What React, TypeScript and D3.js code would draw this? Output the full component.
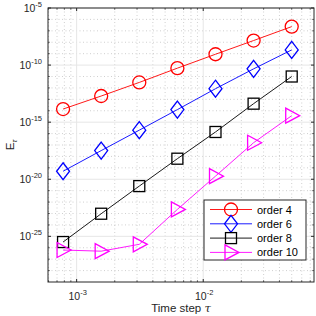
import React from "react";
import * as d3 from "d3";

const steps = [0.00078125, 0.0015625, 0.003125, 0.00625, 0.0125, 0.025, 0.05];
const order4 = [-13.85, -12.71, -11.52, -10.27, -9.05, -7.85, -6.63];
const order6 = [-19.3, -17.49, -15.7, -13.9, -12.07, -10.33, -8.67];
const order8 = [-25.5, -23.02, -20.6, -18.2, -15.86, -13.38, -11.0];
const order10 = [-26.2, -26.3, -25.7, -22.64, -19.73, -16.8, -14.43];
const seriesNames = ["order 4", "order 6", "order 8", "order 10"];
const seriesColors = ["#ff0000", "#0000ff", "#000000", "#ff00ff"];
const seriesMarkers = ["circle", "diamond", "square", "triangle"];
const xMajorExps = [-3, -2];
const yMajorExps = [-5, -10, -15, -20, -25];

const W = 316, H = 316;
const L = 48, R = 314, T = 8, B = 282;

function Marker({ type, x, y, color }: { type: string; x: number; y: number; color: string }) {
  const sw = 1.3;
  if (type === "circle") return <circle cx={x} cy={y} r={6.5} fill="none" stroke={color} strokeWidth={sw} />;
  if (type === "diamond")
    return <path d={`M${x},${y - 8.5}L${x + 6.5},${y}L${x},${y + 8.5}L${x - 6.5},${y}Z`} fill="none" stroke={color} strokeWidth={sw} />;
  if (type === "square") return <rect x={x - 5.5} y={y - 5.5} width={11} height={11} fill="none" stroke={color} strokeWidth={sw} />;
  return <path d={`M${x - 6},${y - 7.5}L${x + 8},${y}L${x - 6},${y + 7.5}Z`} fill="none" stroke={color} strokeWidth={sw} />;
}

export default function App() {
  const x = d3.scaleLog().domain([5.94e-4, 7.5e-2]).range([L, R]);
  const y = d3.scaleLog().domain([1e-29, 1e-5]).range([B, T]);
  const data = [order4, order6, order8, order10];
  const line = d3
    .line<[number, number]>()
    .x((d) => x(d[0]))
    .y((d) => y(Math.pow(10, d[1])));

  const xMinor: number[] = [];
  for (let e = -4; e <= -1; e++) for (let m = 1; m <= 9; m++) {
    const v = m * Math.pow(10, e);
    if (v >= 5.94e-4 && v <= 7.5e-2 && !(m === 1 && xMajorExps.includes(e))) xMinor.push(v);
  }
  const yMinor: number[] = [];
  for (let e = -28; e <= -6; e++) if (!yMajorExps.includes(e)) yMinor.push(Math.pow(10, e));

  const font = "'Liberation Sans', Arial, sans-serif";
  const axisColor = "#262626";

  const legX = 204, legY = 200, legW = 102, legH = 60;

  return (
    <svg width={W} height={H} style={{ position: "absolute", left: 0, top: 0 }} fontFamily={font}>
      <rect x={0} y={0} width={W} height={H} fill="#fff" />
      {xMinor.map((v, i) => (
        <line key={"xm" + i} x1={x(v)} x2={x(v)} y1={T} y2={B} stroke="#b0b0b0" strokeWidth={0.6} strokeDasharray="1,2.5" />
      ))}
      {yMinor.map((v, i) => (
        <line key={"ym" + i} x1={L} x2={R} y1={y(v)} y2={y(v)} stroke="#b0b0b0" strokeWidth={0.6} strokeDasharray="1,2.5" />
      ))}
      {xMajorExps.map((e) => (
        <line key={"xg" + e} x1={x(Math.pow(10, e))} x2={x(Math.pow(10, e))} y1={T} y2={B} stroke="#e6e6e6" strokeWidth={1} />
      ))}
      {yMajorExps.map((e) => (
        <line key={"yg" + e} x1={L} x2={R} y1={y(Math.pow(10, e))} y2={y(Math.pow(10, e))} stroke="#e6e6e6" strokeWidth={1} />
      ))}
      {xMajorExps.map((e) => {
        const px = x(Math.pow(10, e));
        return (
          <g key={"xt" + e}>
            <line x1={px} x2={px} y1={B} y2={B - 3} stroke={axisColor} />
            <line x1={px} x2={px} y1={T} y2={T + 3} stroke={axisColor} />
          </g>
        );
      })}
      {xMinor.map((v, i) => (
        <g key={"xmt" + i}>
          <line x1={x(v)} x2={x(v)} y1={B} y2={B - 1.8} stroke={axisColor} strokeWidth={0.7} />
          <line x1={x(v)} x2={x(v)} y1={T} y2={T + 1.8} stroke={axisColor} strokeWidth={0.7} />
        </g>
      ))}
      {yMajorExps.map((e) => {
        const py = y(Math.pow(10, e));
        return (
          <g key={"yt" + e}>
            <line x1={L} x2={L + 3} y1={py} y2={py} stroke={axisColor} />
            <line x1={R} x2={R - 3} y1={py} y2={py} stroke={axisColor} />
          </g>
        );
      })}
      {yMinor.map((v, i) => (
        <g key={"ymt" + i}>
          <line x1={L} x2={L + 1.8} y1={y(v)} y2={y(v)} stroke={axisColor} strokeWidth={0.7} />
          <line x1={R} x2={R - 1.8} y1={y(v)} y2={y(v)} stroke={axisColor} strokeWidth={0.7} />
        </g>
      ))}
      {data.map((vals, si) => {
        const pts: [number, number][] = steps.map((s, i) => [s, vals[i]]);
        return (
          <g key={"s" + si}>
            <path d={line(pts) || ""} fill="none" stroke={seriesColors[si]} strokeWidth={0.9} />
            {pts.map((p, i) => (
              <Marker key={i} type={seriesMarkers[si]} x={x(p[0])} y={y(Math.pow(10, p[1]))} color={seriesColors[si]} />
            ))}
          </g>
        );
      })}
      <rect x={L} y={T} width={R - L} height={B - T} fill="none" stroke={axisColor} strokeWidth={1} />
      {yMajorExps.map((e) => {
        const py = y(Math.pow(10, e));
        return (
          <text key={"yl" + e} x={L - 6} y={py + 4} textAnchor="end" fontSize={10.5} fill={axisColor}>
            10<tspan dy={-5} fontSize={7.5}>{String(e)}</tspan>
          </text>
        );
      })}
      {xMajorExps.map((e) => {
        const px = x(Math.pow(10, e));
        return (
          <text key={"xl" + e} x={px + 1} y={300} textAnchor="middle" fontSize={10.5} fill={axisColor}>
            10<tspan dy={-5} fontSize={7.5}>{String(e)}</tspan>
          </text>
        );
      })}
      <text x={(L + R) / 2} y={312} textAnchor="middle" fontSize={11.5} fill={axisColor}>
        Time step <tspan fontStyle="italic" fontFamily="'DejaVu Serif', serif">τ</tspan>
      </text>
      <text transform={`translate(14,${(T + B) / 2}) rotate(-90)`} textAnchor="middle" fontSize={11.5} fill={axisColor}>
        E<tspan dy={2.5} fontSize={7.5} fontStyle="italic">τ</tspan>
      </text>
      <rect x={legX} y={legY} width={legW} height={legH} fill="#fff" stroke={axisColor} strokeWidth={1} />
      {seriesNames.map((n, i) => {
        const ly = legY + 9.5 + i * 14.3;
        return (
          <g key={"lg" + i}>
            <line x1={legX + 6} x2={legX + 48} y1={ly} y2={ly} stroke={seriesColors[i]} strokeWidth={0.9} />
            <Marker type={seriesMarkers[i]} x={legX + 27} y={ly} color={seriesColors[i]} />
            <text x={legX + 53} y={ly + 4} fontSize={11} fill="#000">{n}</text>
          </g>
        );
      })}
    </svg>
  );
}
